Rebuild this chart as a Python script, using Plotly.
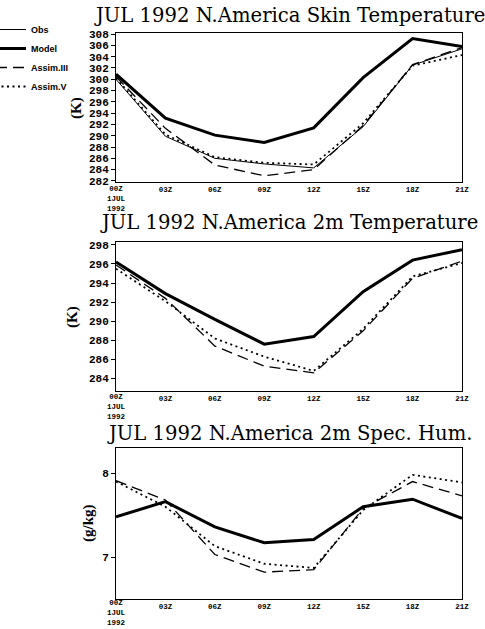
import plotly.graph_objects as go

hours = [0, 3, 6, 9, 12, 15, 18, 21]
x_ticktext = ["", "03Z", "06Z", "09Z", "12Z", "15Z", "18Z", "21Z"]
first_tick_lines = ["00Z", "1JUL", "1992"]

# Panel 1: Skin temperature (K)
skin_obs = [300.0, 289.9, 286.0, 285.0, 284.3, 291.6, 302.5, 305.4]
skin_model = [300.9, 293.1, 290.1, 288.8, 291.4, 300.3, 307.2, 305.8]
skin_assim3 = [300.5, 291.3, 284.8, 282.9, 284.0, 291.8, 302.6, 305.6]
skin_assim5 = [300.2, 290.2, 286.2, 285.2, 284.9, 292.2, 302.4, 304.3]
skin_yticks = list(range(282, 309, 2))

# Panel 2: 2m temperature (K)
t2m_model = [296.2, 292.9, 290.2, 287.6, 288.4, 293.1, 296.4, 297.5]
t2m_assim3 = [295.9, 292.4, 287.4, 285.3, 284.6, 289.0, 294.5, 296.3]
t2m_assim5 = [295.5, 292.1, 288.2, 286.3, 284.8, 289.2, 294.7, 296.1]
t2m_yticks = list(range(284, 299, 2))

# Panel 3: 2m specific humidity (g/kg)
q_model = [7.48, 7.66, 7.36, 7.17, 7.21, 7.60, 7.69, 7.46]
q_assim3 = [7.91, 7.68, 7.03, 6.82, 6.85, 7.58, 7.90, 7.73]
q_assim5 = [7.90, 7.60, 7.13, 6.92, 6.87, 7.56, 7.98, 7.89]
q_yticks = [7, 8]

titles = ["JUL 1992 N.America Skin Temperature",
          "JUL 1992 N.America 2m Temperature",
          "JUL 1992 N.America 2m Spec. Hum."]
ytitles = ["(K)", "(K)", "(g/kg)"]

W, H = 485, 629
def py(pix):
    return 1 - pix / H

styles = {
    "Obs": dict(color="black", width=1.0, dash="solid"),
    "Model": dict(color="black", width=3.0, dash="solid"),
    "Assim.III": dict(color="black", width=1.3, dash="11px,6px"),
    "Assim.V": dict(color="black", width=1.8, dash="2px,3.5px"),
}

fig = go.Figure()

panels = [
    [("Obs", skin_obs), ("Model", skin_model), ("Assim.III", skin_assim3), ("Assim.V", skin_assim5)],
    [("Model", t2m_model), ("Assim.III", t2m_assim3), ("Assim.V", t2m_assim5)],
    [("Model", q_model), ("Assim.III", q_assim3), ("Assim.V", q_assim5)],
]

for i, series in enumerate(panels):
    xa = "x" if i == 0 else f"x{i+1}"
    ya = "y" if i == 0 else f"y{i+1}"
    for name, vals in series:
        fig.add_trace(go.Scatter(
            x=hours, y=vals, mode="lines", name=name,
            line=styles[name], xaxis=xa, yaxis=ya,
            showlegend=(i == 0), hoverinfo="skip"))

# panel pixel boxes (top, bottom)
boxes = [(33, 182), (242, 391), (448, 599)]
ranges = [[281.8, 308.2], [282.7, 298.3], [6.5, 8.3]]
yticks = [skin_yticks, t2m_yticks, q_yticks]
xdom = [116 / W, 462 / W]

axfont = dict(family="Liberation Mono", size=11, color="black", weight="bold")
xfont = dict(family="Liberation Mono", size=7.5, color="black", weight="bold")

layout = dict(
    width=W, height=H,
    margin=dict(l=0, r=0, t=0, b=0, autoexpand=False),
    paper_bgcolor="white", plot_bgcolor="white",
    showlegend=True,
    legend=dict(x=-9 / W, y=py(15), xanchor="left", yanchor="top",
                font=dict(family="Liberation Sans", size=9, color="black", weight="bold"),
                itemwidth=30, tracegroupgap=0, bgcolor="rgba(0,0,0,0)",
                borderwidth=0),
)

for i in range(3):
    sx = "" if i == 0 else str(i + 1)
    top, bot = boxes[i]
    layout["xaxis" + sx] = dict(
        domain=xdom, range=[0, 21], tickvals=hours, ticktext=x_ticktext,
        anchor="y" + sx, showgrid=False, zeroline=False,
        showline=True, linecolor="black", linewidth=1, mirror=True,
        ticks="", tickfont=xfont)
    layout["yaxis" + sx] = dict(
        domain=[py(bot), py(top)], range=ranges[i], tickvals=yticks[i],
        anchor="x" + sx, showgrid=False, zeroline=False,
        showline=True, linecolor="black", linewidth=1, mirror=True,
        ticks="outside", ticklen=4, tickcolor="black", tickfont=axfont)

fig.update_layout(**layout)

title_y = [15, 223, 433]
ytitle_pos = [(76, 108), (73, 317), (88, 523)]
first_tick_y = [199, 407, 613]
for i in range(3):
    sx = "" if i == 0 else str(i + 1)
    fig.add_annotation(text=titles[i], xref="paper", yref="paper",
                       x=(116 + 462) / 2 / W, y=py(title_y[i]),
                       xanchor="center", yanchor="middle", showarrow=False,
                       font=dict(family="DejaVu Serif", size=19.6, color="black"))
    fig.add_annotation(text=ytitles[i], xref="paper", yref="paper",
                       x=ytitle_pos[i][0] / W, y=py(ytitle_pos[i][1]),
                       xanchor="center", yanchor="middle", showarrow=False,
                       textangle=-90,
                       font=dict(family="Liberation Serif", size=15, color="black", weight="bold"))
    fig.add_annotation(text="<br>".join(first_tick_lines), xref="x" + sx, yref="paper",
                       x=hours[0], y=py(first_tick_y[i]),
                       xanchor="center", yanchor="middle", showarrow=False,
                       borderpad=0, font=xfont)

fig.write_html("out.html", config={"displayModeBar": False},
               post_script="document.body.style.margin='0';document.body.style.overflow='hidden';")
